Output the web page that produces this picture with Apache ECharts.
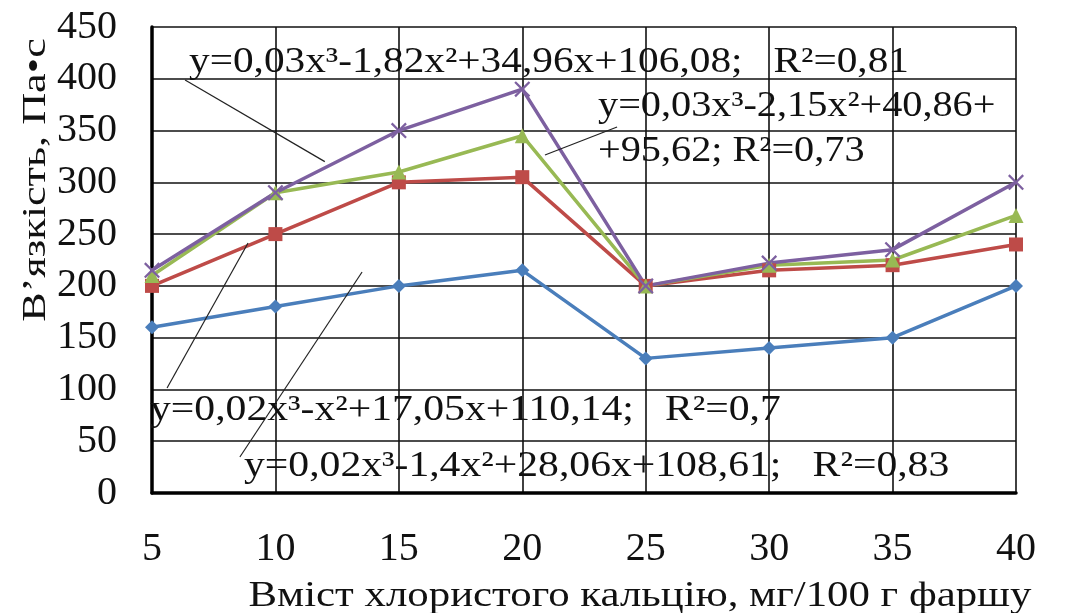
<!DOCTYPE html>
<html><head><meta charset="utf-8">
<script src="https://cdn.jsdelivr.net/npm/echarts@6/dist/echarts.min.js"></script>
<style>html,body{margin:0;padding:0;background:#fff}#c{width:1066px;height:613px}</style>
</head><body><div id="c"></div>
<script>
const categories = [5, 10, 15, 20, 25, 30, 35, 40];
const blueValues = [160, 180, 200, 215, 130, 140, 150, 200];
const redValues = [200, 250, 300, 305, 200, 215, 220, 240];
const greenValues = [210, 290, 310, 345, 200, 220, 225, 268];
const purpleValues = [215, 290, 350, 390, 200, 222, 235, 300];
const yTicks = [0, 50, 100, 150, 200, 250, 300, 350, 400, 450];
const eq1 = 'y=0,03x³-1,82x²+34,96x+106,08;   R²=0,81';
const eq2a = 'y=0,03x³-2,15x²+40,86+';
const eq2b = '+95,62; R²=0,73';
const eq3 = 'y=0,02x³-x²+17,05x+110,14;   R²=0,7';
const eq4 = 'y=0,02x³-1,4x²+28,06x+108,61;   R²=0,83';
const leaders = [
  [[6.34, 398.8], [12.0, 320]],
  [[20.92, 326.4], [23.84, 353.4]],
  [[8.89, 241.4], [5.61, 101.4]],
  [[8.56, 34.8], [13.51, 213.4]]
];
const xName = 'Вміст хлористого кальцію, мг/100 г фаршу';
const yName = 'В\u2019язкість, Па•с';

const font = 'Liberation Serif';
const pair = v => categories.map((c, i) => [c, v[i]]);
const xPath = 'path://M0,1L1,0L5,4L9,0L10,1L6,5L10,9L9,10L5,6L1,10L0,9L4,5Z';

function mk(name, vals, color, symbol, size) {
  return {
    name, type: 'line', data: pair(vals), symbol, symbolSize: size,
    lineStyle: { color, width: 3.5 }, itemStyle: { color },
    z: 3
  };
}
const series = [
  mk('s1', blueValues, '#4a7ebb', 'diamond', 14),
  mk('s2', redValues, '#be4b48', 'rect', 14),
  mk('s3', greenValues, '#98b954', 'triangle', 15),
  mk('s4', purpleValues, '#7d60a0', xPath, 16)
];
series[0].markLine = {
  silent: true, symbol: 'none', animation: false,
  label: { show: false },
  lineStyle: { color: '#222', width: 1.2, type: 'solid' },
  data: leaders.map(l => [{ coord: l[0] }, { coord: l[1] }])
};

const eqStyle = { fontFamily: font, fontSize: 35, fill: '#111' };
function txt(s, x, y, sx) {
  return { type: 'text', x, y, scaleX: sx, z: 10,
    style: Object.assign({ text: s, textVerticalAlign: 'middle' }, eqStyle) };
}

const chart = echarts.init(document.getElementById('c'));
chart.setOption({
  animation: false,
  backgroundColor: '#fff',
  grid: { left: 152, right: 50, top: 27, bottom: 120, show: false },
  xAxis: {
    type: 'value', min: 5, max: 40, interval: 5,
    axisLine: { show: true, lineStyle: { color: '#000', width: 3.5 } },
    axisTick: { show: false },
    axisLabel: { fontFamily: font, fontSize: 40, color: '#111', margin: 36 },
    splitLine: { show: true, lineStyle: { color: '#111', width: 1.6 } }
  },
  yAxis: {
    type: 'value', min: 0, max: 450, interval: 50,
    axisLine: { show: true, lineStyle: { color: '#000', width: 3.5 } },
    axisTick: { show: false },
    axisLabel: { fontFamily: font, fontSize: 40, color: '#111', margin: 35 },
    splitLine: { show: true, lineStyle: { color: '#111', width: 1.6 } }
  },
  series,
  graphic: [
    txt(eq1, 189, 63, 1.18),
    txt(eq2a, 598, 107, 1.15),
    txt(eq2b, 598, 152, 1.15),
    txt(eq3, 150, 411, 1.19),
    txt(eq4, 244, 467, 1.19),
    { type: 'text', x: 640, y: 597, z: 10, scaleX: 1.19,
      style: { text: xName, fontFamily: font, fontSize: 36, fill: '#111', textAlign: 'center', textVerticalAlign: 'middle' } },
    { type: 'text', x: 36, y: 180, rotation: Math.PI / 2, z: 10, scaleX: 1.3,
      style: { text: yName, fontFamily: font, fontSize: 34, fill: '#111', textAlign: 'center', textVerticalAlign: 'middle' } }
  ]
});
</script></body></html>
